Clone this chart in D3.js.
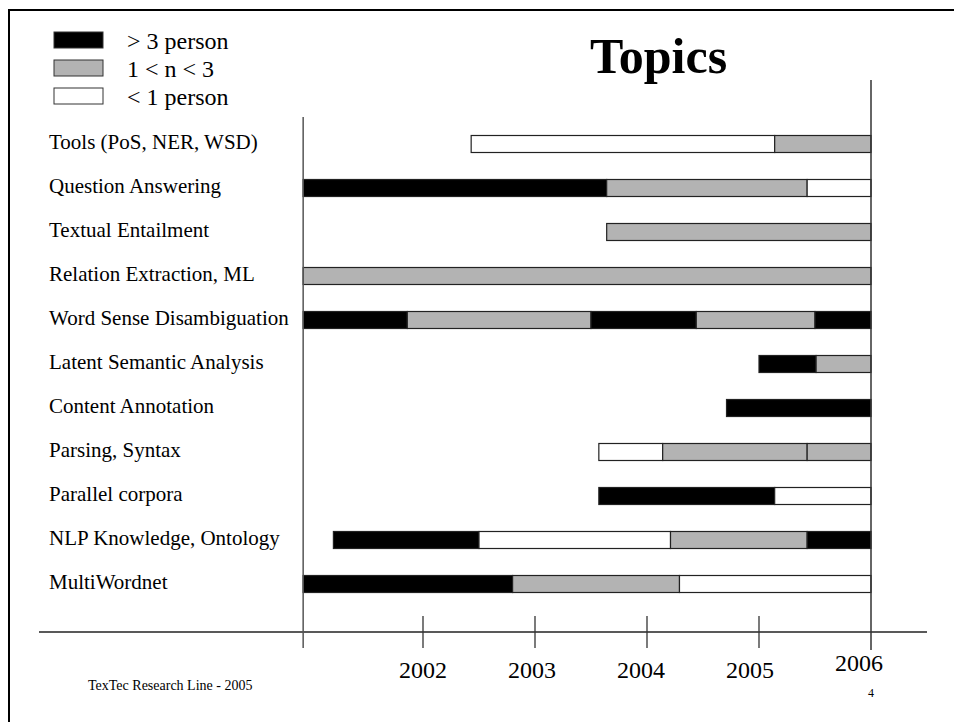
<!DOCTYPE html>
<html>
<head>
<meta charset="utf-8">
<script src="https://cdn.jsdelivr.net/npm/d3@7"></script>
<style>
  body { margin: 0; background: #fff; }
  text { font-family: "Liberation Serif", "Times New Roman", serif; fill: #000; }
</style>
</head>
<body>
<script>
// topics, top to bottom
var topics = [
  "Tools (PoS, NER, WSD)",
  "Question Answering",
  "Textual Entailment",
  "Relation Extraction, ML",
  "Word Sense Disambiguation",
  "Latent Semantic Analysis",
  "Content Annotation",
  "Parsing, Syntax",
  "Parallel corpora",
  "NLP Knowledge, Ontology",
  "MultiWordnet"
];

// staffing levels (0 = black, 1 = gray, 2 = white)
var levels = ["> 3 person", "1 < n < 3", "< 1 person"];
var levelColors = ["#000000", "#b3b3b3", "#ffffff"];

var years = [2002, 2003, 2004, 2005, 2006];
var startYear = 2000.93;   // left edge of the time line
var endYear = 2006;

// [topic index, from, to, level]
var phases = [
  [0, 2002.43, 2005.14, 2], [0, 2005.14, 2006, 1],
  [1, 2000.93, 2003.64, 0], [1, 2003.64, 2005.43, 1], [1, 2005.43, 2006, 2],
  [2, 2003.64, 2006, 1],
  [3, 2000.93, 2006, 1],
  [4, 2000.93, 2001.86, 0], [4, 2001.86, 2003.50, 1], [4, 2003.50, 2004.44, 0],
  [4, 2004.44, 2005.50, 1], [4, 2005.50, 2006, 0],
  [5, 2005.00, 2005.51, 0], [5, 2005.51, 2006, 1],
  [6, 2004.71, 2006, 0],
  [7, 2003.57, 2004.14, 2], [7, 2004.14, 2005.43, 1], [7, 2005.43, 2006, 1],
  [8, 2003.57, 2005.14, 0], [8, 2005.14, 2006, 2],
  [9, 2001.20, 2002.50, 0], [9, 2002.50, 2004.21, 2], [9, 2004.21, 2005.43, 1], [9, 2005.43, 2006, 0],
  [10, 2000.93, 2002.80, 0], [10, 2002.80, 2004.29, 1], [10, 2004.29, 2006, 2]
];

var width = 954;
var height = 722;

var svg = d3.select("body")
            .append("svg")
            .attr("width", width)
            .attr("height", height);

// slide frame (only top and left edges are visible)
svg.append("rect")
   .attr("x", 9)
   .attr("y", 10)
   .attr("width", width + 20)
   .attr("height", height + 20)
   .attr("fill", "none")
   .attr("stroke", "#000")
   .attr("stroke-width", 2);

var x = d3.scaleLinear()
          .domain([2002, 2006])
          .range([423, 871]);

var y = d3.scalePoint()
          .domain(d3.range(topics.length))
          .range([144, 584]);

var barH = 17;
var axisY = 632;

// title
svg.append("text")
   .attr("x", 590)
   .attr("y", 73)
   .attr("font-size", "50px")
   .attr("font-weight", "bold")
   .text("Topics");

// legend
var legend = svg.selectAll(".legend")
                .data(levels)
                .enter()
                .append("g")
                .attr("class", "legend")
                .attr("transform", function(d, i){
                      return "translate(54," + (32 + i * 28) + ")";
                });

legend.append("rect")
      .attr("width", 49)
      .attr("height", 16)
      .attr("fill", function(d, i){ return levelColors[i]; })
      .attr("stroke", "#333")
      .attr("stroke-width", 1);

legend.append("text")
      .attr("x", 73)
      .attr("y", 17)
      .attr("font-size", "24px")
      .text(function(d){ return d; });

// topic labels
svg.selectAll(".topicLabel")
   .data(topics)
   .enter()
   .append("text")
   .attr("class", "topicLabel")
   .attr("x", 49)
   .attr("y", function(d, i){ return y(i) + 5; })
   .attr("font-size", "21px")
   .text(function(d){ return d; });

// bars
svg.selectAll(".phase")
   .data(phases)
   .enter()
   .append("rect")
   .attr("class", "phase")
   .attr("x", function(d){ return x(d[1]); })
   .attr("y", function(d){ return y(d[0]) - barH / 2; })
   .attr("width", function(d){ return x(d[2]) - x(d[1]); })
   .attr("height", barH)
   .attr("fill", function(d){ return levelColors[d[3]]; })
   .attr("stroke", "#222")
   .attr("stroke-width", 1.2);

// time axis
svg.append("line")
   .attr("x1", 39)
   .attr("x2", 927)
   .attr("y1", axisY)
   .attr("y2", axisY)
   .attr("stroke", "#222")
   .attr("stroke-width", 1.3);

// start line
svg.append("line")
   .attr("x1", x(startYear))
   .attr("x2", x(startYear))
   .attr("y1", 117)
   .attr("y2", axisY + 16)
   .attr("stroke", "#555")
   .attr("stroke-width", 1.5);

// end line
svg.append("line")
   .attr("x1", x(endYear))
   .attr("x2", x(endYear))
   .attr("y1", 80)
   .attr("y2", axisY + 18)
   .attr("stroke", "#333")
   .attr("stroke-width", 1.5);

// year ticks
svg.selectAll(".tick")
   .data(years.slice(0, -1))
   .enter()
   .append("line")
   .attr("class", "tick")
   .attr("x1", function(d){ return x(d); })
   .attr("x2", function(d){ return x(d); })
   .attr("y1", axisY - 16)
   .attr("y2", axisY + 16)
   .attr("stroke", "#333")
   .attr("stroke-width", 1.3);

svg.selectAll(".yearLabel")
   .data(years)
   .enter()
   .append("text")
   .attr("class", "yearLabel")
   .attr("x", function(d){ return x(d) - (d - 2002) * 3; })
   .attr("y", function(d){ return d === endYear ? 671 : 678; })
   .attr("text-anchor", "middle")
   .attr("font-size", "24px")
   .text(function(d){ return d; });

// footer
svg.append("text")
   .attr("x", 88)
   .attr("y", 690)
   .attr("font-size", "14px")
   .text("TexTec Research Line - 2005");

svg.append("text")
   .attr("x", 871)
   .attr("y", 697)
   .attr("text-anchor", "middle")
   .attr("font-size", "12px")
   .text("4");
</script>
</body>
</html>
